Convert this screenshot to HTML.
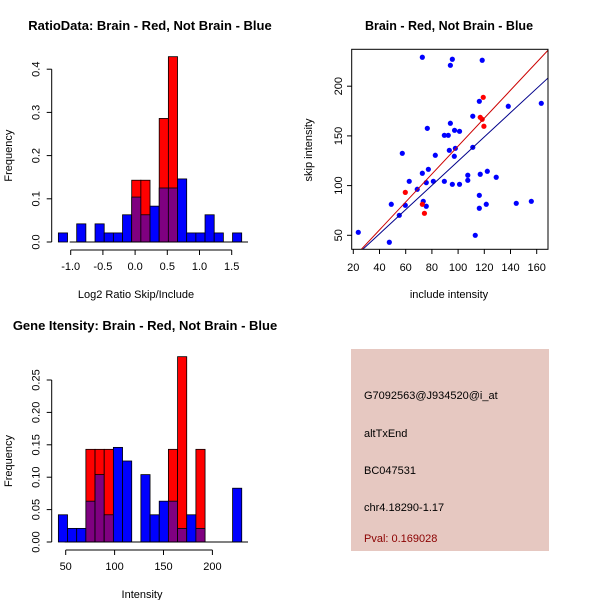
<!DOCTYPE html>
<html><head><meta charset="utf-8"><style>
body{margin:0;background:#fff}
svg{display:block;font-family:"Liberation Sans",sans-serif}
</style></head><body>
<svg id="s" width="600" height="600" xmlns="http://www.w3.org/2000/svg"></svg>
<script>
// ---- Ratio histogram data ----
const ratioBinStart = -1.1915;
const ratioBinWidth = 0.14234;
const ratioBlue = [0.021,0,0.042,0,0.042,0.021,0.021,0.063,0.104,0.063,0.083,0.125,0.125,0.146,0.021,0.021,0.063,0.021,0,0.021];
const ratioRed  = [0,0,0,0,0,0,0,0,0.143,0.143,0,0.286,0.429,0,0,0,0,0,0,0];
const ratioXTicks = [-1.0,-0.5,0.0,0.5,1.0,1.5];
const ratioXTickLabels = ["-1.0","-0.5","0.0","0.5","1.0","1.5"];
const ratioYTicks = [0,0.1,0.2,0.3,0.4];
const ratioYTickLabels = ["0.0","0.1","0.2","0.3","0.4"];
// ---- Intensity histogram data ----
const intBinStart = 42.5;
const intBinWidth = 9.375;
const intBlue = [0.042,0.021,0.021,0.063,0.104,0.042,0.146,0.125,0,0.104,0.042,0.063,0.063,0.021,0.042,0.021,0,0,0,0.083];
const intRed  = [0,0,0,0.143,0.143,0.143,0,0,0,0,0,0,0.143,0.286,0,0.143,0,0,0,0];
const intXTicks = [50,100,150,200];
const intXTickLabels = ["50","100","150","200"];
const intYTicks = [0,0.05,0.10,0.15,0.20,0.25];
const intYTickLabels = ["0.00","0.05","0.10","0.15","0.20","0.25"];
// ---- Scatter data ----
const blueX = [23.8,72.7,95.6,94.1,118.4,116.2,138.3,163.5,111.2,94.1,76.5,97.3,101.1,89.5,92.5,57.4,82.6,93.3,97.9,97.1,111.2,77.3,72.7,62.7,68.8,75.7,81.1,89.5,95.6,101.1,107.4,107.4,116.9,122.3,129.1,116.2,49.0,59.7,55.1,73.4,75.7,116.2,121.5,144.4,155.9,47.5,113.1];
const blueY = [53.0,229.1,227.1,221.0,226.1,184.8,179.8,182.8,169.8,162.7,157.6,155.6,154.6,150.6,150.6,132.5,130.5,135.5,137.5,129.5,138.5,116.4,112.4,104.3,96.3,103.0,104.3,104.3,101.3,101.3,110.4,105.3,111.4,114.4,108.4,90.2,81.2,80.2,70.1,84.2,79.2,77.2,81.2,82.2,84.2,43.0,50.0];
const redX = [59.7,72.7,74.3,116.9,118.4,119.2,119.7];
const redY = [93.2,81.2,72.1,168.7,166.7,188.8,159.7];
const redFit = [-0.77,1.405];   // intercept, slope
const blueFit = [2.7,1.219];
const scXTicks = [20,40,60,80,100,120,140,160];
const scXTickLabels = ["20","40","60","80","100","120","140","160"];
const scYTicks = [50,100,150,200];
const scYTickLabels = ["50","100","150","200"];

const NS="http://www.w3.org/2000/svg";
const svg=document.getElementById('s');
function mk(tag,attrs,parent,text){const e=document.createElementNS(NS,tag);for(const k in attrs)e.setAttribute(k,attrs[k]);if(text!==undefined)e.textContent=text;(parent||svg).appendChild(e);return e;}

function hist(g,o,blue,red,start,w,xt,xtl,yt,ytl,xlab,title,nm){
  const sx=v=>o.x0+(v-o.v0)*o.kx, sy=v=>o.y0-v*o.ky;
  const t=mk('text',{x:o.tcx,y:o.ty,'font-size':13,'font-weight':'bold','text-anchor':'middle'},g,title);
  
  
  for(let i=0;i<blue.length;i++){
    const x1=sx(start+i*w),x2=sx(start+(i+1)*w);
    const b=blue[i],r=red[i];
    if(r>0){const e=mk('rect',{x:x1,y:sy(r),width:x2-x1,height:sy(0)-sy(r),fill:'#ff0000',stroke:'#000','stroke-width':0.8},g);
      
      }
    if(b>0){const e=mk('rect',{x:x1,y:sy(b),width:x2-x1,height:sy(0)-sy(b),fill:r>0?'#7f0080':'#0000ff',stroke:'#000','stroke-width':0.8},g);
      
      
      if(r>0&&b>r){const e2=mk('rect',{x:x1,y:sy(b),width:x2-x1,height:sy(r)-sy(b),fill:'#0000ff',stroke:'#000','stroke-width':0.8},g);
        
        }}
  }
  mk('line',{x1:o.x0-1,x2:o.xend,y1:sy(0),y2:sy(0),stroke:'#000'},g);
  mk('line',{x1:o.ax,x2:o.ax,y1:sy(yt[0]),y2:sy(yt[yt.length-1]),stroke:'#000'},g);
  yt.forEach((v,i)=>{mk('line',{x1:o.ax-5,x2:o.ax,y1:sy(v),y2:sy(v),stroke:'#000'},g);
    const l=mk('text',{x:0,y:0,'font-size':11,'text-anchor':'middle',transform:`translate(${o.ax-12},${sy(v)}) rotate(-90)`},g,ytl[i]);
    
    });
  mk('line',{x1:sx(xt[0]),x2:sx(xt[xt.length-1]),y1:o.axy,y2:o.axy,stroke:'#000'},g);
  xt.forEach((v,i)=>{mk('line',{x1:sx(v),x2:sx(v),y1:o.axy,y2:o.axy+5,stroke:'#000'},g);
    const l=mk('text',{x:sx(v),y:o.axy+20,'font-size':11,'text-anchor':'middle'},g,xtl[i]);
    
    });
  const xl=mk('text',{x:o.tx,y:o.axy+48,'font-size':11,'text-anchor':'middle'},g,xlab);
  
  
  const yl=mk('text',{x:0,y:0,'font-size':11,'text-anchor':'middle',transform:`translate(12,${(sy(0)+sy(yt[yt.length-1]))/2}) rotate(-90)`},g,'Frequency');
  
  
}
const g1=mk('g',{});


hist(g1,{x0:70.7,v0:-1.0,kx:64.4,y0:242,ky:432,ax:51.7,axy:250,xend:248,tx:136,tcx:150,ty:30},ratioBlue,ratioRed,ratioBinStart,ratioBinWidth,ratioXTicks,ratioXTickLabels,ratioYTicks,ratioYTickLabels,'Log2 Ratio Skip/Include','RatioData: Brain - Red, Not Brain - Blue','ratio');
const g2=mk('g',{});


hist(g2,{x0:65.7,v0:50,kx:0.978,y0:542,ky:648,ax:51.7,axy:550,xend:248,tx:142,tcx:145,ty:330},intBlue,intRed,intBinStart,intBinWidth,intXTicks,intXTickLabels,intYTicks,intYTickLabels,'Intensity','Gene Itensity: Brain - Red, Not Brain - Blue','intensity');

const g3=mk('g',{});


const px=v=>353.3+(v-20)*1.31, py=v=>235.3-(v-50)*0.994;
const tt=mk('text',{x:449,y:30,'font-size':12.5,'font-weight':'bold','text-anchor':'middle'},g3,'Brain - Red, Not Brain - Blue');


const cp=mk('clipPath',{id:'cp'},g3);mk('rect',{x:351.7,y:49.3,width:196.3,height:200},cp);
const pts=mk('g',{'clip-path':'url(#cp)'},g3);
function fitLine(f,c){const xa=0,xb=200;mk('line',{x1:px(xa),y1:py(f[0]+f[1]*xa),x2:px(xb),y2:py(f[0]+f[1]*xb),stroke:c,'stroke-width':1},pts);}
blueX.forEach((v,i)=>{const c=mk('circle',{cx:px(v),cy:py(blueY[i]),r:2.6,fill:'#0000ff'},pts);
  
  });
redX.forEach((v,i)=>{const c=mk('circle',{cx:px(v),cy:py(redY[i]),r:2.6,fill:'#ff0000'},pts);
  
  });
fitLine(redFit,'#cc0000');fitLine(blueFit,'#00008b');
mk('rect',{x:351.7,y:49.3,width:196.3,height:200,fill:'none',stroke:'#000'},g3);
scXTicks.forEach((v,i)=>{mk('line',{x1:px(v),x2:px(v),y1:249.3,y2:254,stroke:'#000'},g3);
  const l=mk('text',{x:px(v),y:271,'font-size':11,'text-anchor':'middle'},g3,scXTickLabels[i]);
  
  });
scYTicks.forEach((v,i)=>{mk('line',{x1:347,x2:351.7,y1:py(v),y2:py(v),stroke:'#000'},g3);
  const l=mk('text',{x:0,y:0,'font-size':11,'text-anchor':'middle',transform:`translate(342,${py(v)}) rotate(-90)`},g3,scYTickLabels[i]);
  
  });
const sxl=mk('text',{x:449,y:298,'font-size':11,'text-anchor':'middle'},g3,'include intensity');


const syl=mk('text',{x:0,y:0,'font-size':11,'text-anchor':'middle',transform:'translate(312,150) rotate(-90)'},g3,'skip intensity');



const g4=mk('g',{});


mk('rect',{x:351,y:349,width:198,height:202,fill:'#e6c8c1'},g4);
[['G7092563@J934520@i_at',395,'#000','probe-id'],['altTxEnd',433,'#000','event-type'],['BC047531',470,'#000','accession'],['chr4.18290-1.17',507,'#000','location'],['Pval: 0.169028',538,'#8b0000','p-value']].forEach(a=>{
  const t=mk('text',{x:364,y:a[1]+4,'font-size':11,fill:a[2]},g4,a[0]);
  
  });
</script>
</body></html>
